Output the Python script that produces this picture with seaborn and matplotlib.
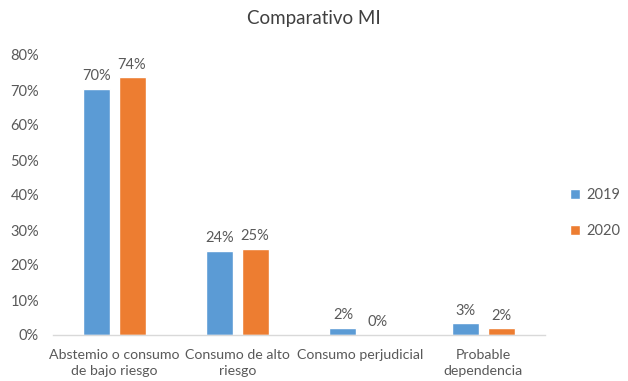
import seaborn as sns
from matplotlib import pyplot as plt
import pandas as pd

categories = ['Abstemio o consumo\nde bajo riesgo', 'Consumo de alto\nriesgo',
              'Consumo perjudicial', 'Probable\ndependencia']
years = ['2019', '2020']
values_2019 = [70.4, 24.0, 2.1, 3.3]
values_2020 = [73.6, 24.6, 0.0, 1.9]
y_ticks = [0, 10, 20, 30, 40, 50, 60, 70, 80]

df = pd.DataFrame({
    'categoria': categories * 2,
    'anio': [years[0]] * len(categories) + [years[1]] * len(categories),
    'valor': values_2019 + values_2020,
})

sns.set_style('white')
plt.rcParams['font.family'] = ['Lato', 'DejaVu Sans']
text_color = '#595959'

fig = plt.figure(figsize=(6.28, 3.81), dpi=100)
ax = fig.add_axes([53 / 628, 46 / 381, 492 / 628, 280 / 381])

sns.barplot(data=df, x='categoria', y='valor', hue='anio', order=categories,
            hue_order=years, palette=['#5B9BD5', '#ED7D31'], width=0.57, gap=0.23,
            saturation=1, ax=ax)

# Data labels on top of each bar
for container in ax.containers:
    ax.bar_label(container, labels=[f'{v:.0f}%' for v in container.datavalues],
                 padding=4, fontsize=10.5, color=text_color)

ax.set_ylim(0, 80)
ax.set_yticks(y_ticks)
ax.set_yticklabels([f'{t}%' for t in y_ticks], fontsize=10.5, color=text_color)
ax.set_xticks(range(len(categories)))
ax.set_xticklabels(categories, fontsize=10.2, color=text_color, linespacing=1.45)
ax.tick_params(axis='y', length=0, pad=10)
ax.tick_params(axis='x', length=0, pad=10)
ax.set_xlabel('')
ax.set_ylabel('')

for side in ['top', 'right', 'left']:
    ax.spines[side].set_visible(False)
ax.spines['bottom'].set_color('#D9D9D9')
ax.spines['bottom'].set_linewidth(1)

fig.suptitle('Comparativo MI', x=0.5, y=0.975, fontsize=13.5, color='#404040')

ax.legend(loc='center left', bbox_to_anchor=(570 / 628, (381 - 213) / 381),
          bbox_transform=fig.transFigure, frameon=False, fontsize=10.5,
          borderpad=0, borderaxespad=0,
          handlelength=0.7, handleheight=0.7, handletextpad=0.4, labelspacing=1.5,
          labelcolor=text_color)

fig.savefig('out.png', dpi=100, facecolor='white')
